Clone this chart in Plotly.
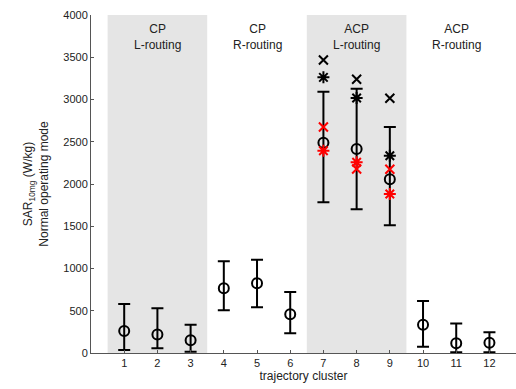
import plotly.graph_objects as go

clusters = list(range(1, 13))
# mean (circle) and error bar bounds for every cluster
mean_vals = [260, 220, 150, 765, 825, 458, 2489, 2414, 2056, 335, 115, 122]
upper_vals = [580, 530, 335, 1085, 1105, 722, 3092, 3128, 2675, 615, 350, 245]
lower_vals = [35, 55, 15, 505, 540, 233, 1783, 1700, 1511, 75, 10, 10]

# extra markers for ACP L-routing clusters
acp_clusters = [7, 8, 9]
black_x = [3467, 3239, 3014]
black_star = [3262, 3018, 2335]
red_x = [2675, 2178, 2174]
red_star = [2394, 2257, 1882]

group_labels = ["CP<br>L-routing", "CP<br>R-routing", "ACP<br>L-routing", "ACP<br>R-routing"]
group_centers = [2, 5, 8, 11]
shaded_groups = [(0.5, 3.5), (6.5, 9.5)]

font = "Liberation Sans, Arial, sans-serif"

fig = go.Figure()

for x0, x1 in shaded_groups:
    fig.add_shape(type="rect", x0=x0, x1=x1, y0=0, y1=4000, xref="x", yref="y",
                  fillcolor="#e5e5e5", line_width=0, layer="below")

fig.add_trace(go.Scatter(
    x=clusters, y=mean_vals, mode="markers",
    marker=dict(symbol="circle-open", size=10, color="black", line=dict(width=2)),
    error_y=dict(type="data", symmetric=False,
                 array=[u - m for u, m in zip(upper_vals, mean_vals)],
                 arrayminus=[m - l for m, l in zip(mean_vals, lower_vals)],
                 color="black", thickness=2, width=6),
    showlegend=False))

fig.add_trace(go.Scatter(x=acp_clusters, y=black_x, mode="markers",
    marker=dict(symbol="x-thin-open", size=9, color="black", line=dict(width=2, color="black")),
    showlegend=False))
fig.add_trace(go.Scatter(x=acp_clusters, y=black_star, mode="markers",
    marker=dict(symbol="asterisk-open", size=10, color="black", line=dict(width=2, color="black")),
    showlegend=False))
fig.add_trace(go.Scatter(x=acp_clusters, y=red_x, mode="markers",
    marker=dict(symbol="x-thin-open", size=9, color="red", line=dict(width=2, color="red")),
    showlegend=False))
fig.add_trace(go.Scatter(x=acp_clusters, y=red_star, mode="markers",
    marker=dict(symbol="asterisk-open", size=10, color="red", line=dict(width=2, color="red")),
    showlegend=False))

for cx, lab in zip(group_centers, group_labels):
    fig.add_annotation(x=cx, y=1, xref="x", yref="paper", text=lab, showarrow=False,
                       yanchor="top", yshift=-5, font=dict(size=12, color="#222222", family=font))

fig.update_layout(
    width=516, height=389,
    margin=dict(l=91, r=0, t=15, b=36, autoexpand=False),
    plot_bgcolor="white", paper_bgcolor="white",
    font=dict(family=font, size=11, color="#222222"),
    xaxis=dict(range=[0, 12.8], tickmode="array", tickvals=clusters,
               ticktext=[str(c) for c in clusters],
               ticks="inside", ticklen=3, tickcolor="#555555", automargin=False,
               showline=True, linecolor="#555555", linewidth=1, showgrid=False, zeroline=False,
               title=dict(text="trajectory cluster", font=dict(size=12), standoff=2)),
    yaxis=dict(range=[0, 4000], tickmode="linear", tick0=0, dtick=500,
               ticks="inside", ticklen=3, tickcolor="#555555", automargin=False,
               showline=True, linecolor="#555555", linewidth=1, showgrid=False, zeroline=False,
               title=dict(text="SAR<sub>10mg</sub> (W/kg)<br>Normal operating mode",
                          font=dict(size=12), standoff=12)),
)

fig.write_html("out.html", config={"displayModeBar": False},
               post_script="document.body.style.margin='0';")
